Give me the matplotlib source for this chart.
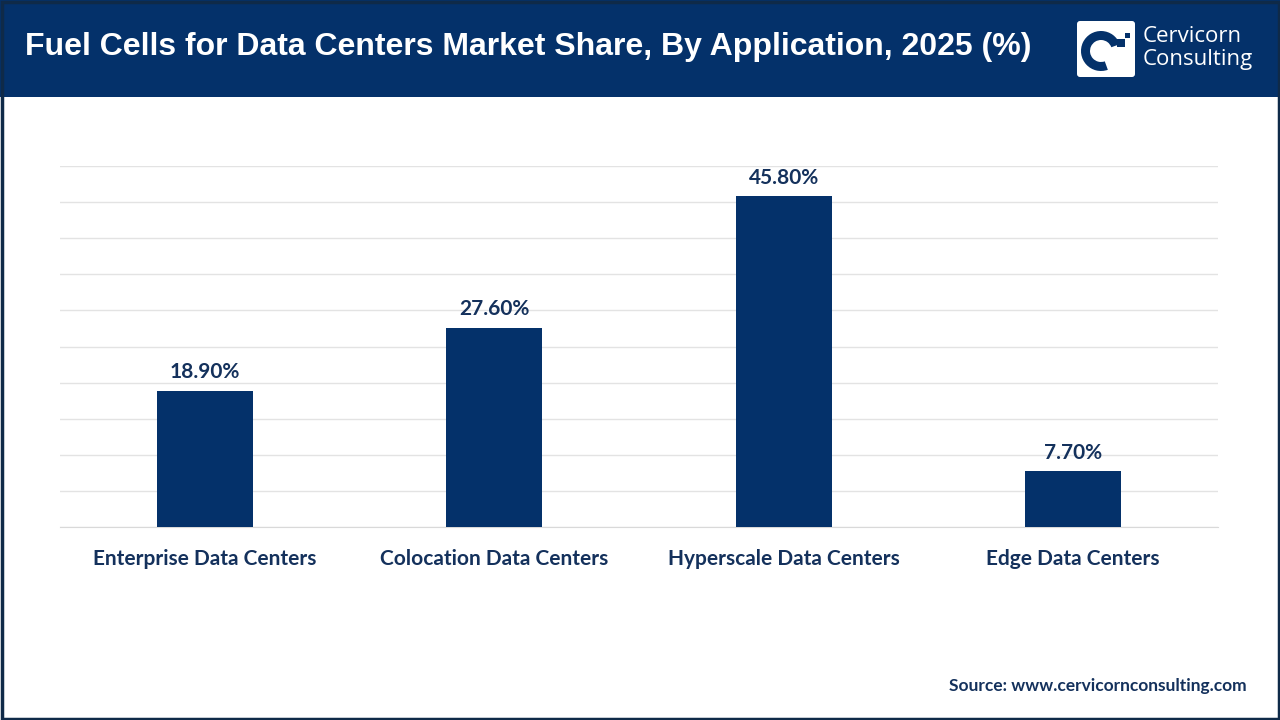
import matplotlib.pyplot as plt
import matplotlib.patches as patches

# data
categories = ['Enterprise Data Centers', 'Colocation Data Centers',
              'Hyperscale Data Centers', 'Edge Data Centers']
shares = [18.9, 27.6, 45.8, 7.7]

NAVY = '#04316a'
TEXT = '#14315c'

fig = plt.figure(figsize=(12.8, 7.2), dpi=100)
fig.patch.set_facecolor('white')

# overlay in pixel coordinates for header, logo, frame
ov = fig.add_axes([0, 0, 1, 1], zorder=0)
ov.set_xlim(0, 1280)
ov.set_ylim(720, 0)
ov.axis('off')

ov.add_patch(patches.Rectangle((0, 0), 1280, 97, fc=NAVY, ec='none'))
ov.text(25, 47, 'Fuel Cells for Data Centers Market Share, By Application, 2025 (%)',
        color='white', fontsize=23, fontweight='bold', family='Liberation Sans',
        ha='left', va='center')

# outer frame
ov.add_patch(patches.Rectangle((1.5, 1.5), 1277, 717, fill=False, ec='#0f2a48', lw=2.5, zorder=5))

# logo
ov.add_patch(patches.FancyBboxPatch((1077, 21), 58, 56, boxstyle='round,pad=0,rounding_size=3',
                                    fc='white', ec='none', zorder=2))
ov.add_patch(patches.Wedge((1101, 51), 20, 70, 340, width=9, fc=NAVY, ec='none', zorder=3))
ov.add_patch(patches.Rectangle((1117, 39), 8, 8, fc=NAVY, ec='none', zorder=3))
ov.add_patch(patches.Rectangle((1125, 33), 5, 5, fc=NAVY, ec='none', zorder=3))
ov.text(1143, 37, 'Cervicorn', color='white', fontsize=16, family='Open Sans',
        ha='left', va='center')
ov.text(1143, 59, 'Consulting', color='white', fontsize=16, family='Open Sans',
        ha='left', va='center')

# chart
ax = fig.add_axes([60 / 1280, 1 - 527 / 720, (1218 - 60) / 1280, (527 - 166) / 720], zorder=1)
x = range(len(categories))
ax.bar(x, shares, width=0.33, color=NAVY, zorder=3)
ax.set_xlim(-0.5, 3.5)
ax.set_ylim(0, 50)
ax.set_yticks(range(0, 51, 5))
ax.yaxis.grid(True, color='#e3e3e3', lw=1)
ax.tick_params(axis='y', length=0, labelleft=False)
ax.tick_params(axis='x', length=0, pad=16)
ax.set_xticks(list(x))
ax.set_xticklabels(categories, fontsize=15, fontweight='bold', family='Lato', color=TEXT)
for s in ['top', 'right', 'left']:
    ax.spines[s].set_visible(False)
ax.spines['bottom'].set_color('#d9d9d9')
ax.patch.set_alpha(0)
for i, v in enumerate(shares):
    ax.text(i, v + 1.2, f'{v:.2f}%', ha='center', va='bottom', fontsize=15,
            fontweight='bold', family='Lato', color=TEXT)

fig.text(1247 / 1280, 1 - 686 / 720, 'Source: www.cervicornconsulting.com', color=TEXT,
         fontsize=12.5, fontweight='bold', family='Lato', ha='right', va='center')

fig.savefig('out.png', dpi=100)
